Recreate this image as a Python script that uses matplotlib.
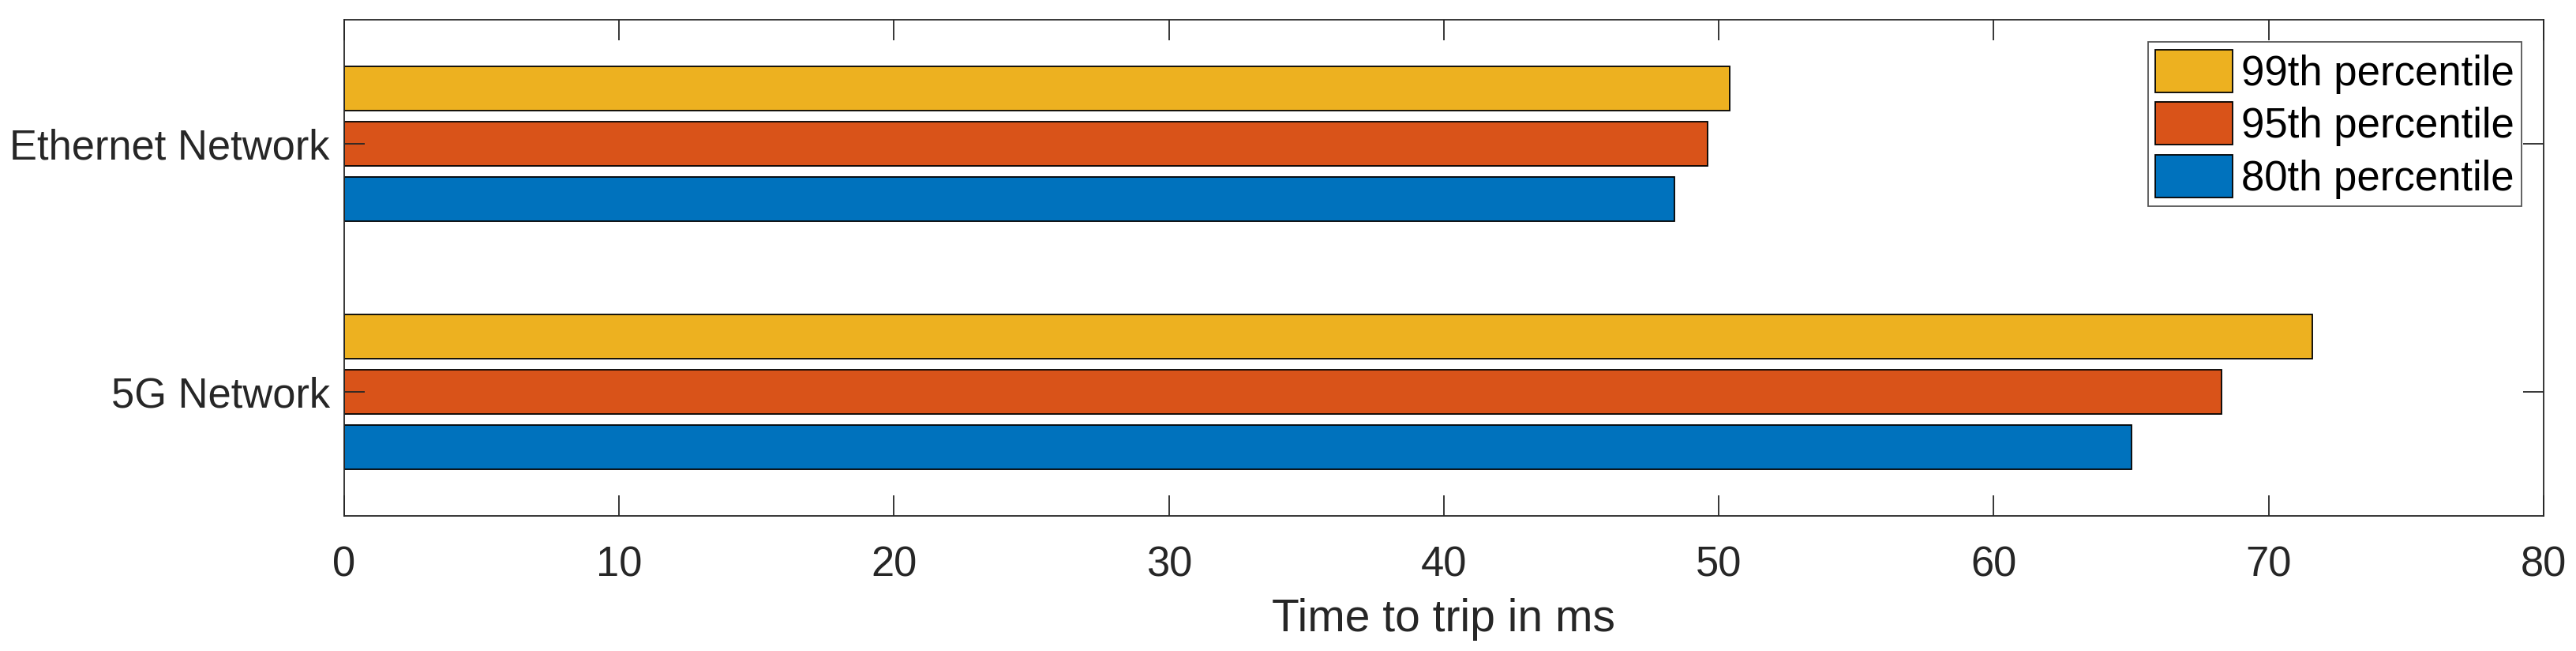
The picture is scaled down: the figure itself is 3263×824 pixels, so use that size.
import numpy as np
import matplotlib
matplotlib.use('Agg')
import matplotlib.pyplot as plt

plt.rcParams['font.family'] = ['Liberation Sans', 'DejaVu Sans']

categories = ['5G Network', 'Ethernet Network']
p80 = [65.0, 48.4]
p95 = [68.3, 49.6]
p99 = [71.6, 50.4]
series_names = ['80th percentile', '95th percentile', '99th percentile']
colors = ['#0072BD', '#D95319', '#EDB120']
xticks = [0, 10, 20, 30, 40, 50, 60, 70, 80]

axcol = '#262626'
fig = plt.figure(figsize=(32.63, 8.24), dpi=100)
ax = fig.add_axes([0.1336, 0.2075, 0.8538, 0.7621])

y = np.arange(1, len(categories) + 1)
n = 3
gw = min(0.8, n / (n + 1.5))
step = gw / n
bh = step * 0.8
bars = []
for i, vals in enumerate([p80, p95, p99]):
    off = (i - (n - 1) / 2) * step
    b = ax.barh(y + off, vals, height=bh, color=colors[i], edgecolor='black',
                linewidth=1.3, label=series_names[i])
    bars.append(b)

ax.set_xlim(0, 80)
ax.set_ylim(0.5, 2.5)
ax.set_xticks(xticks)
ax.set_yticks(y)
ax.set_yticklabels(categories)
ax.tick_params(axis='both', direction='in', length=19, width=1.3, colors=axcol,
               labelsize=37.8, top=True, right=True)
ax.tick_params(axis='x', pad=27)
ax.tick_params(axis='y', pad=13)
for s in ax.spines.values():
    s.set_color(axcol)
    s.set_linewidth(1.3)
ax.set_xlabel('Time to trip in ms', fontsize=41, color=axcol, labelpad=12)

leg = ax.legend(handles=bars[::-1], loc='upper right', bbox_to_anchor=(0.990, 0.955),
                borderaxespad=0, fontsize=38, handlelength=1.85, handleheight=1.2,
                handletextpad=0.2, borderpad=0.18, labelspacing=0.2,
                fancybox=False, framealpha=1)
leg.get_frame().set_edgecolor('#555555')
leg.get_frame().set_linewidth(1.3)

fig.savefig('out.png', dpi=100)
